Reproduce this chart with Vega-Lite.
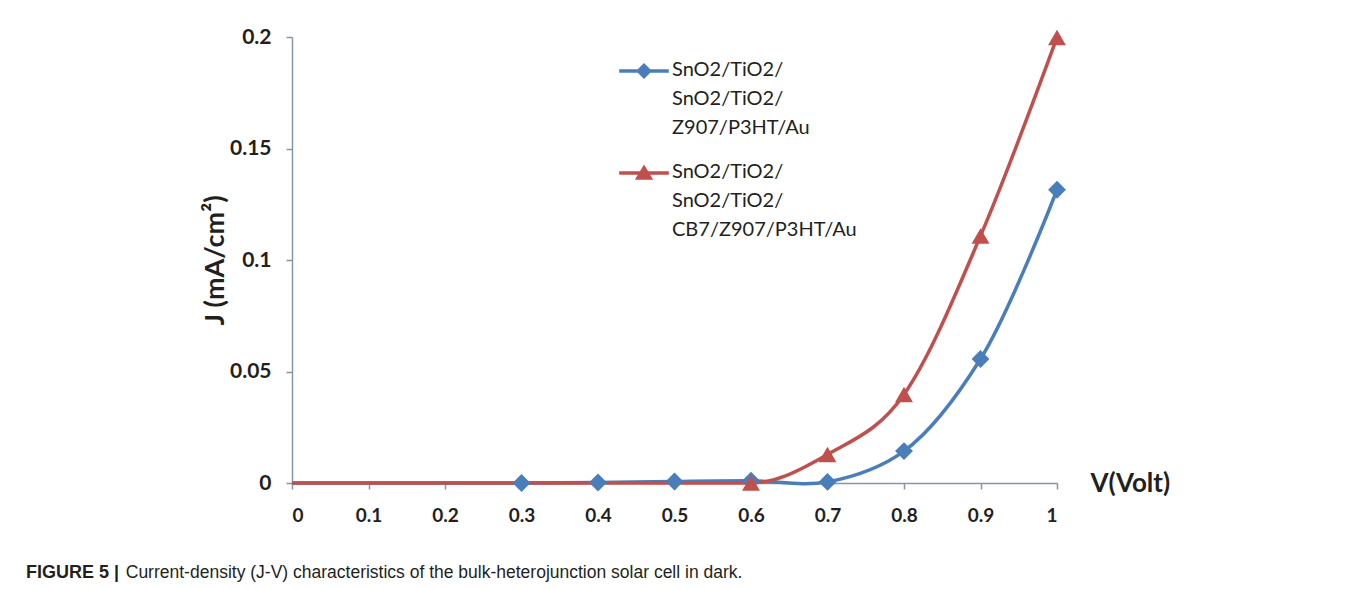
{
  "$schema": "https://vega.github.io/schema/vega-lite/v6.json",
  "width": 765,
  "height": 446,
  "autosize": {"type": "none"},
  "padding": {"left": 292, "top": 37, "right": 291, "bottom": 106},
  "background": "white",
  "config": {"view": {"stroke": null}, "font": "Lato"},
  "title": {
    "text": "FIGURE 5 |",
    "subtitle": "\u200b\u2002\u2002\u2002\u2002\u2002\u2002\u2002\u2002\u2002\u2002\u2002\u2009Current-density (J-V) characteristics of the bulk-heterojunction solar cell in dark.",
    "orient": "bottom",
    "anchor": "start",
    "frame": "group",
    "dx": -266,
    "offset": 39,
    "font": "Liberation Sans",
    "fontSize": 18,
    "fontWeight": "bold",
    "color": "#231f20",
    "subtitleFont": "Liberation Sans",
    "subtitleFontSize": 17.5,
    "subtitleFontWeight": "normal",
    "subtitleColor": "#231f20",
    "subtitlePadding": -18
  },
  "datasets": {
    "curves": [
      {"series": "s1", "V": 0, "J": 0},
      {"series": "s1", "V": 0.1, "J": 0},
      {"series": "s1", "V": 0.2, "J": 0},
      {"series": "s1", "V": 0.3, "J": 0},
      {"series": "s1", "V": 0.4, "J": 0.0002},
      {"series": "s1", "V": 0.5, "J": 0.0007},
      {"series": "s1", "V": 0.6, "J": 0.001},
      {"series": "s1", "V": 0.7, "J": 0.0005},
      {"series": "s1", "V": 0.8, "J": 0.0143},
      {"series": "s1", "V": 0.9, "J": 0.0556},
      {"series": "s1", "V": 1.0, "J": 0.1315},
      {"series": "s2", "V": 0, "J": 0},
      {"series": "s2", "V": 0.1, "J": 0},
      {"series": "s2", "V": 0.2, "J": 0},
      {"series": "s2", "V": 0.3, "J": 0},
      {"series": "s2", "V": 0.4, "J": 0},
      {"series": "s2", "V": 0.5, "J": 0},
      {"series": "s2", "V": 0.6, "J": 0},
      {"series": "s2", "V": 0.7, "J": 0.0128},
      {"series": "s2", "V": 0.8, "J": 0.0397},
      {"series": "s2", "V": 0.9, "J": 0.1108},
      {"series": "s2", "V": 1.0, "J": 0.1998}
    ],
    "markers": [
      {"series": "s1", "V": 0.3, "J": 0},
      {"series": "s1", "V": 0.4, "J": 0.0002},
      {"series": "s1", "V": 0.5, "J": 0.0007},
      {"series": "s1", "V": 0.6, "J": 0.001},
      {"series": "s1", "V": 0.7, "J": 0.0005},
      {"series": "s1", "V": 0.8, "J": 0.0143},
      {"series": "s1", "V": 0.9, "J": 0.0556},
      {"series": "s1", "V": 1.0, "J": 0.1315},
      {"series": "s2", "V": 0.6, "J": 0},
      {"series": "s2", "V": 0.7, "J": 0.0128},
      {"series": "s2", "V": 0.8, "J": 0.0397},
      {"series": "s2", "V": 0.9, "J": 0.1108},
      {"series": "s2", "V": 1.0, "J": 0.1998}
    ]
  },
  "encoding": {
    "x": {
      "field": "V",
      "type": "quantitative",
      "scale": {"domain": [0, 1], "nice": false},
      "axis": {
        "title": "V(Volt)",
        "values": [0, 0.1, 0.2, 0.3, 0.4, 0.5, 0.6, 0.7, 0.8, 0.9, 1],
        "format": "~g",
        "grid": false,
        "domainColor": "#8497a8",
        "domainWidth": 1.5,
        "tickColor": "#8497a8",
        "tickSize": 6,
        "tickWidth": 1.5,
        "labelFont": "Lato",
        "labelFontSize": 19,
        "labelFontWeight": "bold",
        "labelColor": "#231f20",
        "labelPadding": 17,
        "labelBaseline": "top",
        "titleFont": "Lato",
        "titleFontSize": 26,
        "titleFontWeight": "bold",
        "titleColor": "#231f20",
        "titleAnchor": "start",
        "titleAlign": "left",
        "titleBaseline": "middle",
        "titleX": 798,
        "titleY": 0
      }
    },
    "y": {
      "field": "J",
      "type": "quantitative",
      "scale": {"domain": [0, 0.2], "nice": false, "zero": false},
      "axis": {
        "title": "J (mA/cm²)",
        "values": [0, 0.05, 0.1, 0.15, 0.2],
        "format": "~g",
        "grid": false,
        "domainColor": "#8497a8",
        "domainWidth": 1.5,
        "tickColor": "#8497a8",
        "tickSize": 6,
        "tickWidth": 1.5,
        "labelFont": "Lato",
        "labelFontSize": 21,
        "labelFontWeight": "bold",
        "labelColor": "#231f20",
        "labelPadding": 15,
        "titleFont": "Lato",
        "titleFontSize": 27,
        "titleFontWeight": "bold",
        "titleColor": "#231f20",
        "titlePadding": 0
      }
    },
    "color": {
      "field": "series",
      "type": "nominal",
      "scale": {"domain": ["s1", "s2"], "range": ["#4a7ebb", "#c0504d"]},
      "legend": {
        "orient": "none",
        "legendX": 342,
        "legendY": 24,
        "title": null,
        "symbolSize": 256,
        "symbolOpacity": 1,
        "labelFont": "Lato",
        "labelFontSize": 20,
        "labelColor": "#231f20",
        "labelOffset": 18,
        "labelBaseline": "top",
        "labelLimit": 400,
        "rowPadding": 24,
        "labelExpr": "datum.value == 's1' ? ['SnO2/TiO2/', 'SnO2/TiO2/', 'Z907/P3HT/Au'] : ['SnO2/TiO2/', 'SnO2/TiO2/', 'CB7/Z907/P3HT/Au']",
        "encode": {
          "symbols": {
            "update": {
              "shape": {"signal": "datum.value == 's1' ? 'M-3.1,-0.22L3.1,-0.22L3.1,0.22L-3.1,0.22ZM0,-1L1,0L0,1L-1,0Z' : 'M-3.1,-0.22L3.1,-0.22L3.1,0.22L-3.1,0.22ZM0,-1.05L1.15,0.85L-1.15,0.85Z'"},
              "fill": {"scale": "color", "field": "value"},
              "stroke": {"value": "transparent"},
              "strokeWidth": {"value": 0},
              "opacity": {"value": 1}
            }
          },
          "labels": {
            "update": {"lineHeight": {"value": 29}, "dy": {"value": -11}}
          }
        }
      }
    }
  },
  "layer": [
    {
      "data": {"name": "curves"},
      "transform": [{"filter": "datum.series == 's1'"}],
      "mark": {"type": "line", "interpolate": "catmull-rom", "strokeWidth": 3.5, "clip": false}
    },
    {
      "data": {"name": "curves"},
      "transform": [{"filter": "datum.series == 's2'"}],
      "mark": {"type": "line", "interpolate": "monotone", "strokeWidth": 3.5, "clip": false}
    },
    {
      "data": {"name": "markers"},
      "transform": [{"filter": "datum.series == 's1'"}],
      "mark": {"type": "point", "shape": "diamond", "filled": true, "opacity": 1, "size": 320}
    },
    {
      "data": {"name": "markers"},
      "transform": [{"filter": "datum.series == 's2'"}],
      "mark": {"type": "point", "shape": "triangle-up", "filled": true, "opacity": 1, "size": 320}
    }
  ]
}
